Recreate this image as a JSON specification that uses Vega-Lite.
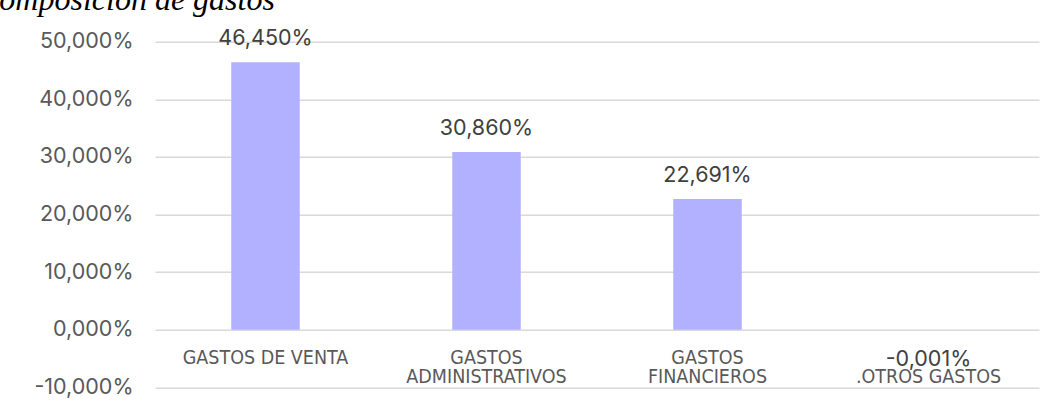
{
  "$schema": "https://vega.github.io/schema/vega-lite/v6.json",
  "autosize": {"type": "none"},
  "width": 884,
  "height": 345.6,
  "padding": {"left": 155, "top": 41.7, "right": 16, "bottom": 22.7},
  "background": "white",
  "title": {
    "text": "Composición de gastos",
    "orient": "top",
    "anchor": "start",
    "frame": "group",
    "font": "Liberation Serif",
    "fontStyle": "italic",
    "fontWeight": "normal",
    "fontSize": 32,
    "color": "#000000",
    "baseline": "alphabetic",
    "offset": 0,
    "dx": -177,
    "dy": 14
  },
  "config": {
    "view": {"stroke": null},
    "locale": {
      "number": {
        "decimal": ",",
        "thousands": ".",
        "grouping": [3],
        "currency": ["", "€"],
        "minus": "-"
      }
    }
  },
  "data": {
    "values": [
      {"categoria": "GASTOS DE VENTA", "valor": 0.4645},
      {"categoria": "GASTOS ADMINISTRATIVOS", "valor": 0.3086},
      {"categoria": "GASTOS FINANCIEROS", "valor": 0.22691},
      {"categoria": ".OTROS GASTOS", "valor": -0.00001}
    ]
  },
  "encoding": {
    "x": {
      "field": "categoria",
      "type": "nominal",
      "sort": null,
      "scale": {"paddingInner": 0.69, "paddingOuter": 0.345},
      "axis": {
        "title": null,
        "orient": "bottom",
        "offset": -57.6,
        "domain": false,
        "ticks": false,
        "tickSize": 0,
        "labelAngle": 0,
        "labelPadding": 19,
        "labelLimit": 0,
        "labelFont": "DejaVu Sans Condensed",
        "labelFontSize": 19.5,
        "labelColor": "#595959",
        "labelLineHeight": 18.5,
        "labelExpr": "datum.value == 'GASTOS DE VENTA' ? datum.value : (datum.value == '.OTROS GASTOS' ? ['', '.OTROS GASTOS'] : split(datum.value, ' '))"
      }
    },
    "y": {
      "field": "valor",
      "type": "quantitative",
      "scale": {"domain": [-0.1, 0.5], "nice": false, "zero": false},
      "axis": {
        "title": null,
        "values": [-0.1, 0, 0.1, 0.2, 0.3, 0.4, 0.5],
        "format": ".3%",
        "domain": false,
        "ticks": false,
        "tickSize": 0,
        "labelPadding": 22,
        "labelFont": "Inter",
        "labelFontSize": 21.5,
        "labelColor": "#595959",
        "grid": true,
        "gridColor": "#d9d9d9",
        "gridWidth": 1.5
      }
    }
  },
  "layer": [
    {
      "mark": {"type": "bar", "color": "#b1b1ff"}
    },
    {
      "transform": [{"filter": "datum.valor >= 0"}],
      "mark": {
        "type": "text",
        "baseline": "alphabetic",
        "dy": -17,
        "font": "Inter",
        "fontSize": 21.5,
        "color": "#404040"
      },
      "encoding": {"text": {"field": "valor", "type": "quantitative", "format": ".3%"}}
    },
    {
      "transform": [{"filter": "datum.valor < 0"}],
      "mark": {
        "type": "text",
        "baseline": "alphabetic",
        "dy": 36,
        "font": "Inter",
        "fontSize": 21.5,
        "color": "#404040"
      },
      "encoding": {"text": {"field": "valor", "type": "quantitative", "format": ".3%"}}
    }
  ]
}
